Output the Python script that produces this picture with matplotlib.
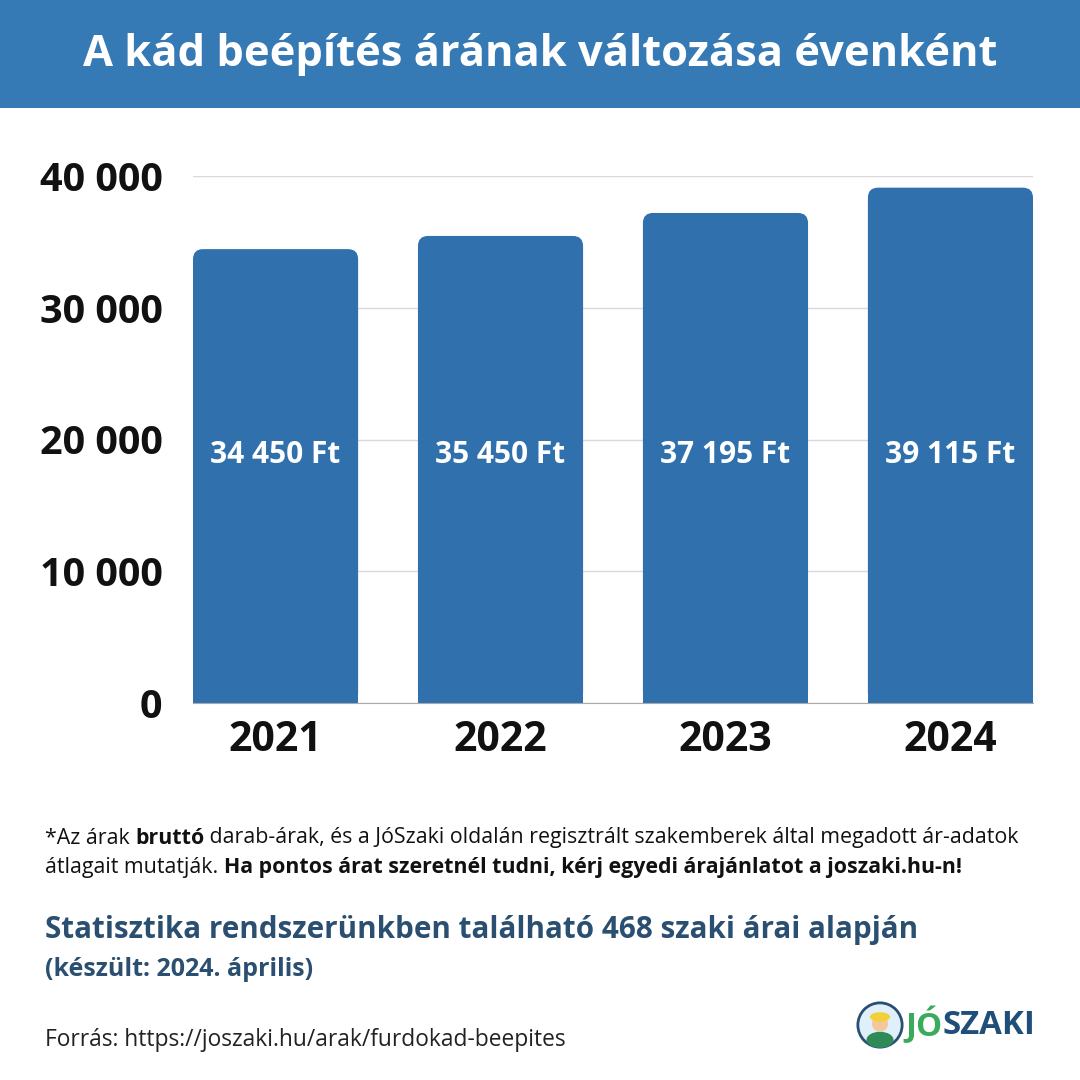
import matplotlib
matplotlib.use("Agg")
import matplotlib.pyplot as plt
from matplotlib.patches import FancyBboxPatch, Rectangle, Circle, Ellipse
from matplotlib.ticker import FuncFormatter

years = ["2021", "2022", "2023", "2024"]
prices = [34450, 35450, 37195, 39115]
price_labels = ["34 450 Ft", "35 450 Ft", "37 195 Ft", "39 115 Ft"]
yticks = [0, 10000, 20000, 30000, 40000]

title = "A kád beépítés árának változása évenként"
BLUE_BAR = "#3070ad"
BLUE_HEAD = "#3579b5"
DARK = "#2b4f70"

plt.rcParams['font.family'] = ['Open Sans', 'DejaVu Sans']

fig = plt.figure(figsize=(10.8, 10.8), dpi=100)
fig.patch.set_facecolor("white")

# header band
fig.patches.append(Rectangle((0, 1 - 108 / 1080), 1, 108 / 1080, transform=fig.transFigure,
                             facecolor=BLUE_HEAD, edgecolor="none", zorder=0))
fig.text(0.5, 1 - 55 / 1080, title, color="white", fontsize=31.3, fontweight="bold",
         ha="center", va="center")

ax = fig.add_axes([193 / 1080, 1 - 703 / 1080, 840 / 1080, 527 / 1080])
bars = ax.bar(range(len(years)), prices, width=0.734, color=BLUE_BAR, zorder=2)
ax.set_xlim(-0.367, len(years) - 1 + 0.367)
ax.set_ylim(0, 40000)

# rounded top corners
rx = 0.045
ry = rx * (40000 / 527) * (840 / (len(years) - 1 + 0.734))
for b in bars:
    x, w, h = b.get_x(), b.get_width(), b.get_height()
    b.set_visible(False)
    ax.add_patch(FancyBboxPatch((x, 0), w, h, boxstyle=f"round,pad=0,rounding_size={rx}",
                                mutation_aspect=ry / rx, facecolor=BLUE_BAR, edgecolor="none", zorder=2))
    ax.add_patch(Rectangle((x, 0), w, h / 2, facecolor=BLUE_BAR, edgecolor="none", zorder=2))

label_frac = 0.47  # fraction of the axis height where in-bar labels sit
for i, lab in enumerate(price_labels):
    ax.text(i, label_frac, lab, color="white", fontsize=21.5, fontweight="bold",
            ha="center", va="center", zorder=3, transform=ax.get_xaxis_transform())

ax.set_yticks(yticks)
ax.yaxis.set_major_formatter(FuncFormatter(lambda v, _: f"{int(v):,}".replace(",", " ")))
ax.set_xticks(range(len(years)))
ax.set_xticklabels(years)
ax.tick_params(axis="y", length=0, pad=22, labelsize=28.5)
ax.tick_params(axis="x", length=0, pad=12, labelsize=29.5)
for lab in ax.get_yticklabels() + ax.get_xticklabels():
    lab.set_fontweight("bold")
    lab.set_color("#111111")
ax.grid(axis="y", color="#d9d9d9", linewidth=1, zorder=0)
for s in ["top", "right", "left"]:
    ax.spines[s].set_visible(False)
ax.spines["bottom"].set_color("#aaaaaa")
ax.spines["bottom"].set_zorder(4)

# footnotes
fs = 15.4
y1 = 1 - 838 / 1080
y2 = 1 - 868 / 1080
t = fig.text(45 / 1080, y1, "*Az árak ", fontsize=fs, va="center", color="#111111")
fig.canvas.draw()
r = fig.canvas.get_renderer()

def cont(prev, s, **kw):
    bb = prev.get_window_extent(renderer=r)
    return fig.text(bb.x1 / 1080, prev.get_position()[1], s, fontsize=fs, va="center",
                    color="#111111", **kw)

t2 = cont(t, "bruttó", fontweight="bold")
cont(t2, " darab-árak, és a JóSzaki oldalán regisztrált szakemberek által megadott ár-adatok")
t3 = fig.text(45 / 1080, y2, "átlagait mutatják. ", fontsize=fs, va="center", color="#111111")
cont(t3, "Ha pontos árat szeretnél tudni, kérj egyedi árajánlatot a joszaki.hu-n!", fontweight="bold")

fig.text(45 / 1080, 1 - 930 / 1080, "Statisztika rendszerünkben található 468 szaki árai alapján",
         fontsize=21.3, fontweight="bold", color=DARK, va="center")
fig.text(45 / 1080, 1 - 970 / 1080, "(készült: 2024. április)",
         fontsize=18, fontweight="bold", color=DARK, va="center")
fig.text(45 / 1080, 1 - 1040 / 1080, "Forrás: https://joszaki.hu/arak/furdokad-beepites",
         fontsize=16.4, color="#222222", va="center")

# logo
lax = fig.add_axes([853 / 1080, 1 - 1052 / 1080, 54 / 1080, 54 / 1080])
lax.set_xlim(-1, 1)
lax.set_ylim(-1, 1)
lax.axis("off")
lax.add_patch(Circle((0, 0), 0.82, facecolor="#dff0fa", edgecolor="#2b4f70", linewidth=2))
lax.add_patch(Ellipse((0, -0.55), 1.0, 0.6, facecolor="#2e8b57", edgecolor="none"))
lax.add_patch(Circle((0, 0.05), 0.3, facecolor="#f3c89a", edgecolor="none"))
lax.add_patch(Ellipse((0, 0.3), 0.75, 0.35, facecolor="#f2d03b", edgecolor="none"))
jt = fig.text(905 / 1080, 1 - 1025 / 1080, "JÓ", fontsize=23.8, fontweight="bold",
              color="#3aaa5c", va="center")
fig.canvas.draw()
bb = jt.get_window_extent(renderer=fig.canvas.get_renderer())
fig.text(bb.x1 / 1080, 1 - 1025 / 1080, "SZAKI", fontsize=23.8, fontweight="bold",
         color="#1f4e79", va="center")

fig.savefig("out.png", dpi=100, facecolor="white")
